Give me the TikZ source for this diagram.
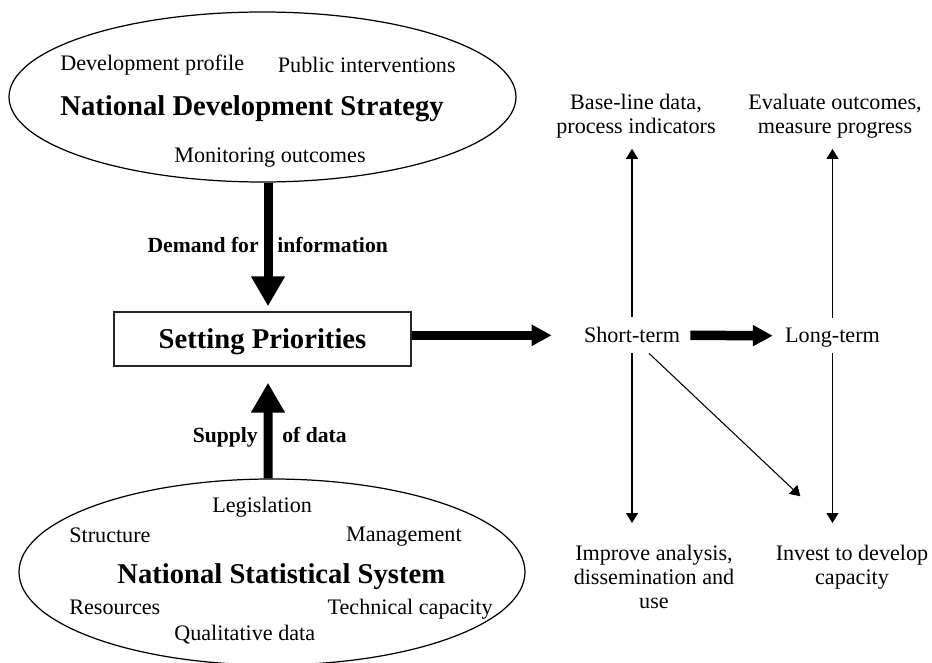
\documentclass[tikz,border=0pt]{standalone}
\usepackage{fontspec}
\setmainfont{Liberation Serif}
\usetikzlibrary{arrows.meta, shapes.geometric}

\begin{document}
\begin{tikzpicture}[
region/.style={ellipse, draw, line width=0.7pt, inner sep=0pt, minimum width=10.14cm},
item/.style={font=\fontsize{12.6}{13.7}\selectfont, inner sep=0pt},
heading/.style={font=\fontsize{16.3}{19}\selectfont\bfseries, inner sep=0pt},
flowlabel/.style={font=\fontsize{12.3}{14}\selectfont\bfseries, inner sep=0pt},
goalbox/.style={heading, draw=black!85, line width=0.8pt, minimum width=5.94cm, minimum height=1.08cm, text depth=0pt},
note/.style={item, align=center},
stage/.style={item, inner sep=0.2cm, text depth=0pt, anchor=base},
bigflow/.style={line width=0.18cm, -{Triangle[width=0.64cm, length=0.6cm]}},
sideflow/.style={line width=0.19cm, -{Triangle[width=0.4cm, length=0.4cm]}},
thinflow/.style={line width=0.6pt, -{Triangle[width=0.24cm, length=0.2cm]}}
]
\useasboundingbox (0,0) rectangle (18.64,13.24);

\node[region, minimum height=3.4cm] (nds) at (5.25,11.30) {};
\node[region, minimum width=10.12cm, minimum height=3.72cm] (nss) at (5.44,1.80) {};
\node[goalbox] (prio) at (5.25,6.46) {Setting Priorities};

\node[item, anchor=base west] (devprofile) at (1.20,11.82) {Development profile};
\node[item, anchor=base east] (interventions) at (9.12,11.78) {Public interventions};
\node[heading, anchor=base west] (ndstitle) at (1.20,10.92) {National Development Strategy};
\node[item, anchor=base west] (monitoring) at (3.48,9.98) {Monitoring outcomes};

\node[item, anchor=base west] (legislation) at (4.24,3.00) {Legislation};
\node[item, anchor=base west] (structure) at (1.38,2.40) {Structure};
\node[item, anchor=base east] (management) at (9.24,2.42) {Management};
\node[heading, anchor=base west] (nsstitle) at (2.34,1.58) {National Statistical System};
\node[item, anchor=base west] (resources) at (1.38,0.96) {Resources};
\node[item, anchor=base east] (techcap) at (9.86,0.96) {Technical capacity};
\node[item, anchor=base west] (qualdata) at (3.48,0.44) {Qualitative data};

\node[flowlabel, anchor=base east] (demand) at (5.18,8.18) {Demand for};
\node[flowlabel, anchor=base west] (information) at (5.54,8.18) {information};
\node[flowlabel, anchor=base east] (supply) at (5.16,4.40) {Supply};
\node[flowlabel, anchor=base west] (ofdata) at (5.64,4.40) {of data};

\node[stage] (short) at (12.64,6.38) {Short-term};
\node[stage] (long) at (16.65,6.38) {Long-term};
\node[note, anchor=north] (basedata) at (12.72,11.36) {Base-line data,\\process indicators};
\node[note, anchor=north] (evaluate) at (16.70,11.36) {Evaluate outcomes,\\measure progress};
\node[note, anchor=north] (improve) at (13.08,2.34) {Improve analysis,\\dissemination and\\use};
\node[note, anchor=north] (invest) at (17.04,2.34) {Invest to develop\\capacity};

\draw[bigflow, shorten >=0.1cm] ([xshift=0.11cm]nds.south) -- ([xshift=0.11cm]prio.north);
\draw[bigflow, shorten >=0.32cm] ([xshift=-0.08cm]nss.north) -- ([xshift=0.11cm]prio.south);
\draw[sideflow, shorten >=0.44cm] (prio.east |- short.west) -- (short.west);
\draw[sideflow, shorten >=0.04cm] (short.east) -- (long.west);

\draw[thinflow, shorten >=0.2cm] (short.north) -- (short.north |- basedata.south);
\draw[thinflow, shorten >=0.2cm] (long.north) -- (long.north |- evaluate.south);
\draw[thinflow, shorten >=0.44cm] (short.south) -- (short.south |- improve.north);
\draw[thinflow, shorten >=0.44cm] (long.south) -- (long.south |- invest.north);
\draw[thinflow, shorten >=1.42cm] ([xshift=0.34cm]short.south) -- (invest.north);

\end{tikzpicture}
\end{document}
